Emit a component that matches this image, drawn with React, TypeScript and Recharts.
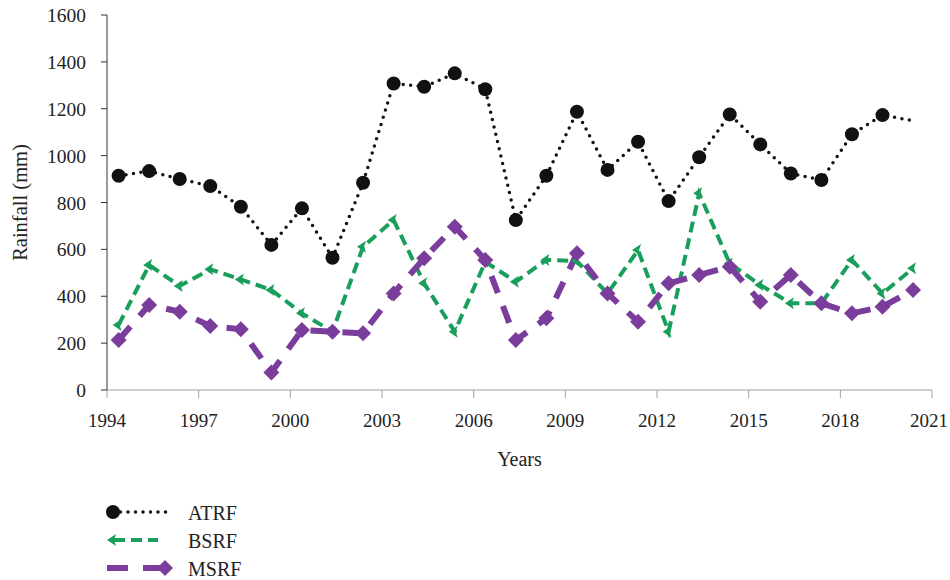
import React from 'react';
import { LineChart, Line, XAxis, YAxis, Legend } from 'recharts';

const years = [
  1994, 1995, 1996, 1997, 1998, 1999, 2000, 2001, 2002, 2003, 2004, 2005, 2006, 2007,
  2008, 2009, 2010, 2011, 2012, 2013, 2014, 2015, 2016, 2017, 2018, 2019, 2020,
];
const atrf = [
  914, 934, 900, 870, 782, 619, 775, 564, 884, 1308, 1294, 1351, 1283, 725,
  914, 1187, 939, 1059, 806, 993, 1176, 1048, 924, 896, 1091, 1173, 1149,
];
const bsrf = [
  277, 533, 444, 515, 472, 427, 327, 249, 611, 725, 455, 249, 547, 462,
  555, 550, 412, 597, 249, 839, 540, 448, 370, 370, 555, 412, 519,
];
const msrf = [
  213, 363, 334, 273, 259, 75, 256, 249, 242, 412, 562, 697, 555, 213,
  306, 583, 412, 291, 455, 491, 526, 377, 491, 370, 327, 355, 427,
];
const xTicks = [1994, 1997, 2000, 2003, 2006, 2009, 2012, 2015, 2018, 2021];
const yTicks = [0, 200, 400, 600, 800, 1000, 1200, 1400, 1600];

const BLACK = '#111111';
const GREEN = '#1a9e5c';
const PURPLE = '#7b3d9b';
const FONT = '"Liberation Serif", "Times New Roman", serif';

// points sit a bit inside each year slot, like the original
const data = years.map((y, i) => ({
  x: y + 0.38,
  ATRF: atrf[i],
  BSRF: bsrf[i],
  MSRF: msrf[i],
}));

const XTick = (props: any) => {
  const { x, y, payload } = props;
  // keep the last label inside the picture
  const tx = Math.min(x, 929);
  return (
    <text x={tx} y={y + 27} textAnchor="middle" fontFamily={FONT} fontSize={19} fill="#222">
      {payload.value}
    </text>
  );
};

const YTick = (props: any) => {
  const { x, y, payload } = props;
  return (
    <text x={x - 13} y={y + 7} textAnchor="end" fontFamily={FONT} fontSize={19.5} fill="#222">
      {payload.value}
    </text>
  );
};

const CircleDot = (props: any) => {
  const { cx, cy, index } = props;
  if (index === years.length - 1 || cx == null) return <g key={`a-${index}`} />;
  return <circle key={`a-${index}`} cx={cx} cy={cy} r={7} fill={BLACK} />;
};

const ArrowDot = (props: any) => {
  const { cx, cy, index } = props;
  if (cx == null) return <g key={`b-${index}`} />;
  return (
    <path
      key={`b-${index}`}
      d={`M${cx - 6},${cy} L${cx + 3},${cy - 6} L${cx + 1},${cy} L${cx + 3},${cy + 6} Z`}
      fill={GREEN}
    />
  );
};

const DiamondDot = (props: any) => {
  const { cx, cy, index } = props;
  if (cx == null) return <g key={`m-${index}`} />;
  return (
    <path
      key={`m-${index}`}
      d={`M${cx},${cy - 8} L${cx + 8},${cy} L${cx},${cy + 8} L${cx - 8},${cy} Z`}
      fill={PURPLE}
    />
  );
};

const legendRows = [
  { name: 'ATRF', color: BLACK },
  { name: 'BSRF', color: GREEN },
  { name: 'MSRF', color: PURPLE },
];

const LegendBox = () => (
  <svg width={200} height={84} style={{ display: 'block' }}>
    {legendRows.map((r, i) => {
      const y = 16 + i * 28;
      return (
        <g key={r.name}>
          {r.name === 'ATRF' && (
            <>
              <line x1={13} y1={y} x2={67} y2={y} stroke={BLACK} strokeWidth={3.5} strokeDasharray="0 7.5" strokeLinecap="round" />
              <circle cx={13} cy={y} r={7} fill={BLACK} />
            </>
          )}
          {r.name === 'BSRF' && (
            <>
              <line x1={14} y1={y} x2={58} y2={y} stroke={GREEN} strokeWidth={4} strokeDasharray="11 6" />
              <path d={`M7,${y} L16,${y - 6} L14,${y} L16,${y + 6} Z`} fill={GREEN} />
            </>
          )}
          {r.name === 'MSRF' && (
            <>
              <line x1={7} y1={y} x2={64} y2={y} stroke={PURPLE} strokeWidth={6} strokeDasharray="21 15" />
              <path d={`M65,${y - 8} L73,${y} L65,${y + 8} L57,${y} Z`} fill={PURPLE} />
            </>
          )}
          <text x={88} y={y + 8} fontFamily={FONT} fontSize={20} fill="#222">
            {r.name}
          </text>
        </g>
      );
    })}
  </svg>
);

export default function App() {
  return (
    <div style={{ position: 'absolute', left: 0, top: 0, background: '#fff', fontFamily: FONT }}>
      <LineChart width={950} height={580} data={data} margin={{ top: 15, right: 18, bottom: 22, left: 0 }}>
        <XAxis
          dataKey="x"
          type="number"
          domain={[1994, 2021]}
          ticks={xTicks}
          interval={0}
          height={84}
          stroke="#a0a0a0"
          tickSize={8}
          tickMargin={2}
          tick={<XTick />}
          label={{ value: 'Years', position: 'insideBottom', offset: 8, style: { fill: '#222', fontSize: 20, fontFamily: FONT } }}
        />
        <YAxis
          type="number"
          domain={[0, 1600]}
          ticks={yTicks}
          interval={0}
          width={107}
          stroke="#333"
          tickSize={6}
          tickMargin={2}
          tick={<YTick />}
          label={{ value: 'Rainfall (mm)', angle: -90, position: 'insideLeft', offset: 20, style: { textAnchor: 'middle', fill: '#222', fontSize: 20.5, fontFamily: FONT } }}
        />
        <Legend
          verticalAlign="bottom"
          align="left"
          wrapperStyle={{ left: 100, bottom: 0, width: 200 }}
          content={() => <LegendBox />}
        />
        <Line
          dataKey="ATRF"
          stroke={BLACK}
          strokeWidth={3.5}
          strokeDasharray="0 7.5"
          strokeLinecap="round"
          dot={<CircleDot />}
          activeDot={false}
          isAnimationActive={false}
        />
        <Line
          dataKey="BSRF"
          stroke={GREEN}
          strokeWidth={4}
          strokeDasharray="11 6"
          dot={<ArrowDot />}
          activeDot={false}
          isAnimationActive={false}
        />
        <Line
          dataKey="MSRF"
          stroke={PURPLE}
          strokeWidth={6}
          strokeDasharray="18 14"
          dot={<DiamondDot />}
          activeDot={false}
          isAnimationActive={false}
        />
      </LineChart>
    </div>
  );
}
